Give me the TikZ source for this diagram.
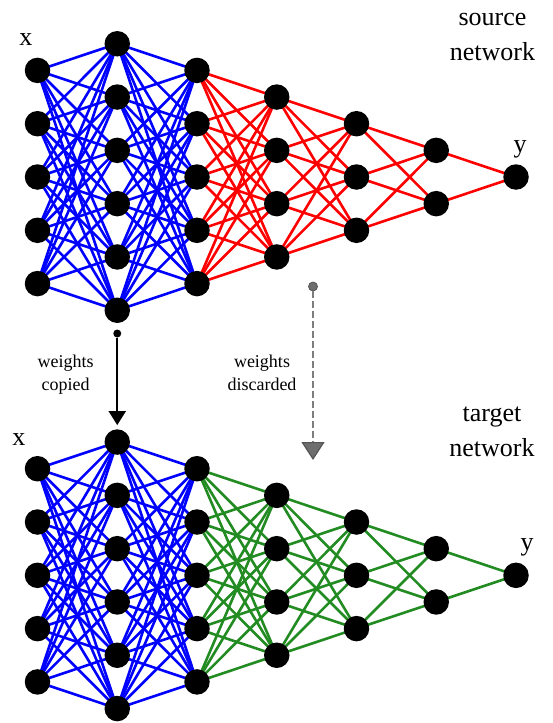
\documentclass[tikz,border=0pt]{standalone}
\usepackage{fontspec}
\setmainfont{Liberation Serif}
\usetikzlibrary{arrows.meta}
\definecolor{netgreen}{RGB}{34,139,34}
\definecolor{arrgray}{RGB}{125,125,125}
\definecolor{tipedge}{RGB}{85,85,85}
\definecolor{tipfill}{RGB}{110,110,110}
\pgfdeclarelayer{bg}
\pgfsetlayers{bg,main}
\begin{document}
\begin{tikzpicture}[x=1pt,y=-1pt,
  neuron/.style={circle,fill=black,inner sep=0pt,minimum size=25.5pt},
  conn/.style={line width=2.6pt},
  lbl/.style={font=\fontsize{26}{35}\selectfont,inner sep=0pt},
  small/.style={font=\fontsize{18}{23}\selectfont,align=center,inner sep=0pt}]
\useasboundingbox (0,0) rectangle (553,723);
% neurons
\foreach \net/\yc in {s/177,t/575.3}{
  \foreach \l/\n in {1/5,2/6,3/5,4/4,5/3,6/2,7/1}{
    \foreach \j in {1,...,\n}{
      \pgfmathsetmacro\xx{37.5+79.75*(\l-1)}
      \pgfmathsetmacro\yy{\yc+(\j-(\n+1)/2)*53.3}
      \node[neuron] (\net-\l-\j) at (\xx,\yy) {};
    }
  }
}
% connections
\begin{pgfonlayer}{bg}
\foreach \net/\col in {s/red,t/netgreen}{
  \foreach \l/\n/\m in {1/5/6,2/6/5,3/5/4,4/4/3,5/3/2,6/2/1}{
    \pgfmathtruncatemacro\lnext{\l+1}
    \ifnum\l<3 \def\ec{blue}\else\edef\ec{\col}\fi
    \foreach \i in {1,...,\n}{
      \foreach \k in {1,...,\m}{
        \draw[conn,draw=\ec] (\net-\l-\i.center) -- (\net-\lnext-\k.center);
      }
    }
  }
}
\end{pgfonlayer}
% labels
\node[lbl,anchor=center] (xs) at (26,40) {x};
\node[lbl,anchor=base] (ys) at (520,152) {y};
\node[lbl,anchor=center] (xt) at (19,440) {x};
\node[lbl,anchor=base] (yt) at (527,550) {y};
\node[lbl,align=center,anchor=base] (srcl) at (492.5,60) {source\\network};
\node[lbl,align=center,anchor=base] (tgtl) at (492,456.7) {target\\network};
\node[small,anchor=base] (wc) at (65.7,390) {weights\\copied};
\node[small,anchor=base] (wd) at (262,390) {weights\\discarded};
% transfer arrows
\node[circle,fill=black,inner sep=0pt,minimum size=8pt] (d1) at (117.25,333.5) {};
\draw[line width=2pt,-{Triangle[width=17pt,length=14pt]},shorten >=4pt] (d1) -- (t-2-1.north);
\node[circle,fill=tipfill,draw=tipedge,line width=0.8pt,inner sep=0pt,minimum size=9pt] (d2) at (313,286.5) {};
\coordinate (g2) at (313,460);
\draw[arrgray,line width=2pt,dash pattern=on 7pt off 3pt,
  -{Triangle[width=23pt,length=18pt,color=tipedge,fill=tipfill,line width=1.2pt]}] (d2) -- (g2);
\end{tikzpicture}
\end{document}
